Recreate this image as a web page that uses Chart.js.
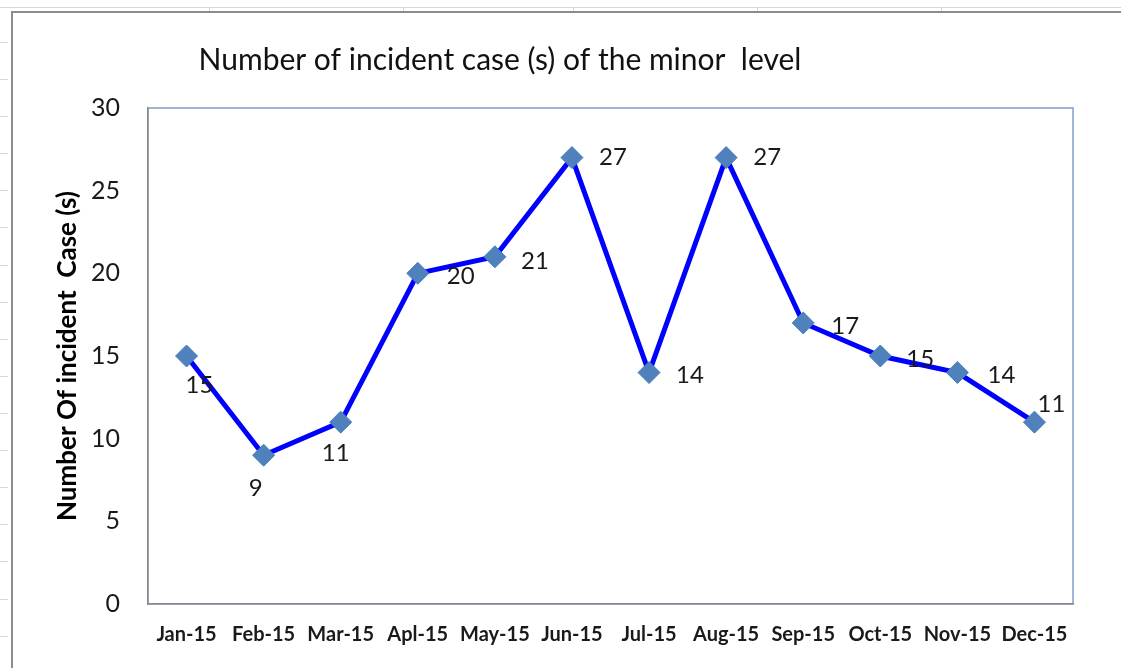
<!DOCTYPE html>
<html><head><meta charset="utf-8">
<script src="https://cdn.jsdelivr.net/npm/chart.js@4.4.1/dist/chart.umd.min.js"></script>
<style>html,body{margin:0;padding:0;background:#fff;overflow:hidden}#wrap{width:1121px;height:668px;position:relative}</style>
</head><body><div id="wrap"><canvas id="c" width="1121" height="668"></canvas></div>
<script>
const categories = ['Jan-15','Feb-15','Mar-15','Apl-15','May-15','Jun-15','Jul-15','Aug-15','Sep-15','Oct-15','Nov-15','Dec-15'];
const incidentCases = [15, 9, 11, 20, 21, 27, 14, 27, 17, 15, 14, 11];
const yTickValues = [0, 5, 10, 15, 20, 25, 30];
const chartTitle = 'Number of incident case (s) of the minor  level';
const yAxisTitle = 'Number Of incident  Case (s)';

const FONT = 'Lato, "Open Sans", sans-serif';

const sheetPlugin = {
  id: 'sheet',
  beforeDraw(chart) {
    const ctx = chart.ctx, W = chart.width, H = chart.height, ca = chart.chartArea;
    ctx.save();
    ctx.fillStyle = '#fff';
    ctx.fillRect(0, 0, W, H);
    // spreadsheet grid remnants
    ctx.strokeStyle = '#d6d6d6';
    ctx.lineWidth = 1;
    ctx.beginPath();
    ctx.moveTo(0, 7.5); ctx.lineTo(W, 7.5);
    [209, 403, 573, 757, 941].forEach(x => { ctx.moveTo(x + 0.5, 7); ctx.lineTo(x + 0.5, 11); });
    for (let y = 42; y < H; y += 37.1) { ctx.moveTo(0, Math.round(y) + 0.5); ctx.lineTo(8, Math.round(y) + 0.5); }
    ctx.stroke();
    // chart frame
    ctx.strokeStyle = '#8c8c8c';
    ctx.lineWidth = 2;
    ctx.beginPath();
    ctx.moveTo(12, H); ctx.lineTo(12, 12); ctx.lineTo(W, 12);
    ctx.stroke();
    // plot area border
    ctx.strokeStyle = '#7f9fcc';
    ctx.lineWidth = 1.5;
    ctx.strokeRect(ca.left, ca.top, ca.right - ca.left, ca.bottom - ca.top);
    // title
    ctx.fillStyle = '#111';
    ctx.font = '30px ' + FONT;
    ctx.textAlign = 'center';
    ctx.textBaseline = 'middle';
    ctx.fillText(chartTitle, 500, 60);
    ctx.restore();
  }
};

const valueLabelPlugin = {
  id: 'valueLabels',
  afterDatasetsDraw(chart, args, opts) {
    const ctx = chart.ctx;
    const meta = chart.getDatasetMeta(0);
    const data = chart.data.datasets[0].data;
    ctx.save();
    ctx.fillStyle = opts.color;
    ctx.font = opts.font;
    ctx.textAlign = 'center';
    ctx.textBaseline = 'middle';
    meta.data.forEach((pt, i) => {
      const off = opts.offsets[i] || [40, 3];
      ctx.fillText(String(data[i]), pt.x + off[0], pt.y + off[1]);
    });
    ctx.restore();
  }
};

new Chart(document.getElementById('c'), {
  type: 'line',
  data: {
    labels: categories,
    datasets: [{
      data: incidentCases,
      borderColor: '#0000ff',
      borderWidth: 5,
      tension: 0,
      pointStyle: 'rectRot',
      pointRadius: 11,
      pointHoverRadius: 11,
      pointBackgroundColor: '#4f81bd',
      pointBorderColor: '#4a7ebb',
      pointBorderWidth: 1
    }]
  },
  options: {
    responsive: false,
    animation: false,
    events: [],
    layout: { padding: { top: 108, left: 0, right: 48, bottom: 0 } },
    plugins: {
      legend: { display: false },
      title: { display: false },
      tooltip: { enabled: false },
      valueLabels: {
        color: '#1a1a1a',
        font: '24px ' + FONT,
        offsets: [[13, 29], [-8, 33], [-5, 31], [43, 3], [40, 4], [41, 0], [41, 3], [41, 0], [42, 3], [40, 3], [44, 3], [17, -18]]
      }
    },
    scales: {
      x: {
        offset: true,
        grid: { display: false, drawTicks: false },
        border: { display: true, color: '#8a8a8a', width: 1.5 },
        ticks: { color: '#1a1a1a', font: { family: FONT, size: 20, weight: 'bold' }, padding: 19, maxRotation: 0, autoSkip: false },
        afterFit(scale) { scale.height = 64; }
      },
      y: {
        min: 0, max: 30,
        afterBuildTicks(scale) { scale.ticks = yTickValues.map(v => ({ value: v })); },
        grid: { display: false, drawTicks: false },
        border: { display: true, color: '#8a8a8a', width: 1.5 },
        ticks: { color: '#1a1a1a', font: { family: FONT, size: 25 }, padding: 28 },
        title: { display: true, text: yAxisTitle, color: '#000', font: { family: FONT, size: 26, weight: 'bold' }, padding: { top: 52, bottom: 0 } },
        afterFit(scale) { scale.width = 148; }
      }
    }
  },
  plugins: [sheetPlugin, valueLabelPlugin]
});
</script></body></html>
